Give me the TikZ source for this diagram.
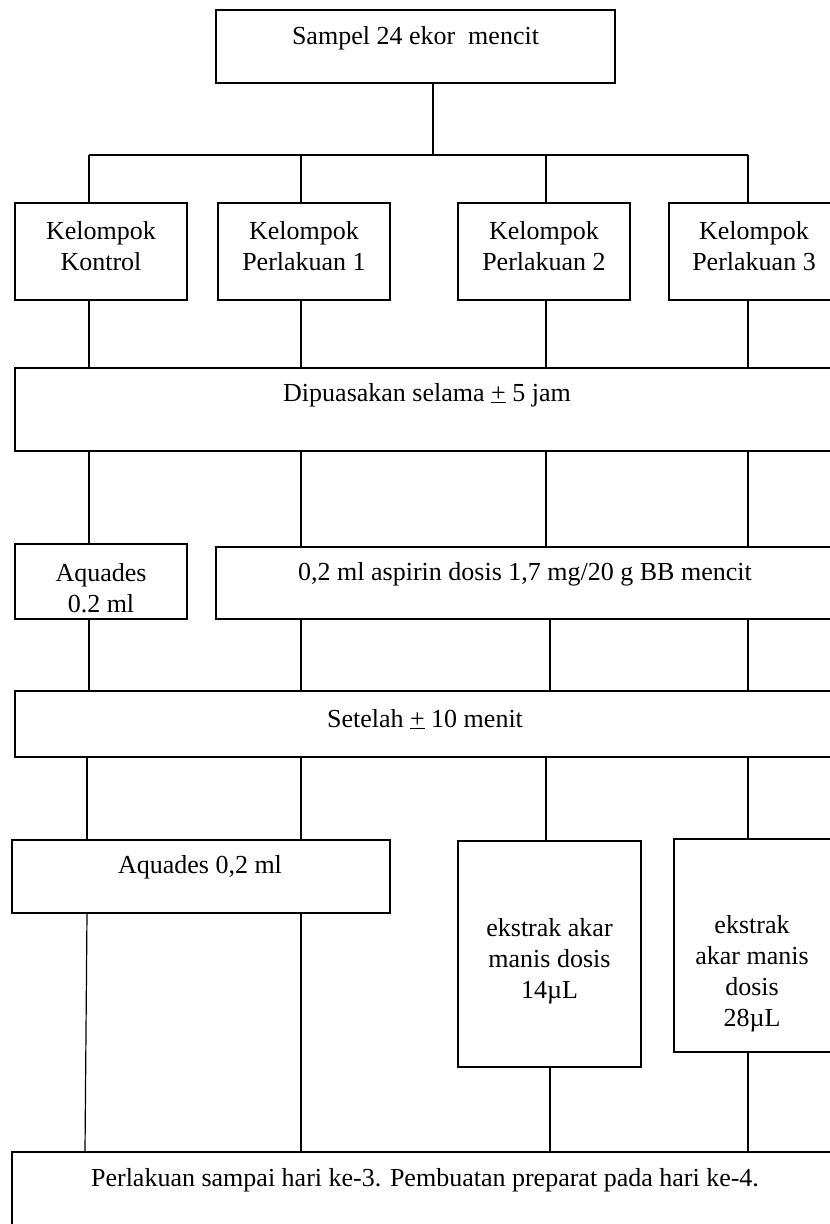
\documentclass[tikz,border=0pt]{standalone}
\usepackage{fontspec}
\setmainfont{Liberation Serif}
\begin{document}
\begin{tikzpicture}[x=1pt,y=-1pt,
  box/.style={draw, line width=1.2pt, inner sep=0pt, outer sep=0pt},
  txt/.style={inner sep=0pt, align=center, font=\fontsize{26}{31}\selectfont},
  conn/.style={line width=1.2pt}]
\useasboundingbox (0,0) rectangle (830,1224);
% boxes
\node[box, minimum width=399pt, minimum height=73pt] (sampel) at (415.5,46.5) {};
\node[box, minimum width=172pt, minimum height=97pt] (k0) at (101,251.5) {};
\node[box, minimum width=172pt, minimum height=97pt] (k1) at (304,251.5) {};
\node[box, minimum width=172pt, minimum height=97pt] (k2) at (544,251.5) {};
\node[box, minimum width=172pt, minimum height=97pt] (k3) at (755,251.5) {};
\node[box, minimum width=821pt, minimum height=83pt] (puasa) at (425.5,409.5) {};
\node[box, minimum width=172pt, minimum height=75pt] (aq1) at (101,581.5) {};
\node[box, minimum width=620pt, minimum height=72pt] (asp) at (526,583) {};
\node[box, minimum width=821pt, minimum height=66pt] (setelah) at (425.5,724) {};
\node[box, minimum width=378pt, minimum height=73pt] (aq2) at (201,876.5) {};
\node[box, minimum width=183pt, minimum height=226pt] (ek14) at (549.5,954) {};
\node[box, minimum width=162pt, minimum height=213pt] (ek28) at (755,945.5) {};
\node[box, minimum width=824pt, minimum height=88pt] (final) at (424,1196) {};
% texts
\node[txt] (sampel-t) at (415.5,38) {Sampel 24 ekor\ \ mencit};
\node[txt] (k0-t) at (101,246) {Kelompok\\Kontrol};
\node[txt] (k1-t) at (304,246) {Kelompok\\Perlakuan 1};
\node[txt] (k2-t) at (544,246) {Kelompok\\Perlakuan 2};
\node[txt] (k3-t) at (754,246) {Kelompok\\Perlakuan 3};
\node[txt] (puasa-t) at (427,395) {Dipuasakan selama \underline{+} 5 jam};
\node[txt] (aq1-t) at (101,588) {Aquades\\0.2 ml};
\node[txt] (asp-t) at (525,574) {0,2 ml aspirin dosis 1,7 mg/20 g BB mencit};
\node[txt] (setelah-t) at (425,719) {Setelah \underline{+} 10 menit};
\node[txt] (aq2-t) at (200,867) {Aquades 0,2 ml};
\node[txt] (ek14-t) at (549.5,961) {ekstrak akar\\manis dosis\\14µL};
\node[txt] (ek28-t) at (752,974) {ekstrak\\akar manis\\dosis\\28µL};
\node[txt] (final-t) at (425,1180) {Perlakuan sampai hari ke-3. Pembuatan preparat pada hari ke-4.};
% columns
\coordinate (bus) at (433,155);
\coordinate (cA) at (89,0);
\coordinate (cB) at (301,0);
\coordinate (cC) at (546,0);
\coordinate (cC2) at (550,0);
\coordinate (cD) at (748,0);
\coordinate (cA2) at (87,0);
\coordinate (cA3) at (85,0);
% connectors
\draw[conn] (sampel.south -| bus) -- (bus);
\draw[conn] (cA |- bus) -- (cD |- bus);
\foreach \c/\k in {cA/k0, cB/k1, cC/k2, cD/k3}{
  \draw[conn] (\c |- bus) -- (\c |- \k.north);
  \draw[conn] (\c |- \k.south) -- (\c |- puasa.north);
}
\draw[conn] (cA |- puasa.south) -- (cA |- aq1.north);
\foreach \c in {cB, cC, cD}{
  \draw[conn] (\c |- puasa.south) -- (\c |- asp.north);
}
\draw[conn] (cA |- aq1.south) -- (cA |- setelah.north);
\foreach \c in {cB, cC2, cD}{
  \draw[conn] (\c |- asp.south) -- (\c |- setelah.north);
}
\draw[conn] (cA2 |- setelah.south) -- (cA2 |- aq2.north);
\draw[conn] (cB |- setelah.south) -- (cB |- aq2.north);
\draw[conn] (cC |- setelah.south) -- (cC |- ek14.north);
\draw[conn] (cD |- setelah.south) -- (cD |- ek28.north);
\draw[conn] (cA2 |- aq2.south) -- (cA3 |- final.north);
\draw[conn] (cB |- aq2.south) -- (cB |- final.north);
\draw[conn] (cC2 |- ek14.south) -- (cC2 |- final.north);
\draw[conn] (cD |- ek28.south) -- (cD |- final.north);
\end{tikzpicture}
\end{document}
